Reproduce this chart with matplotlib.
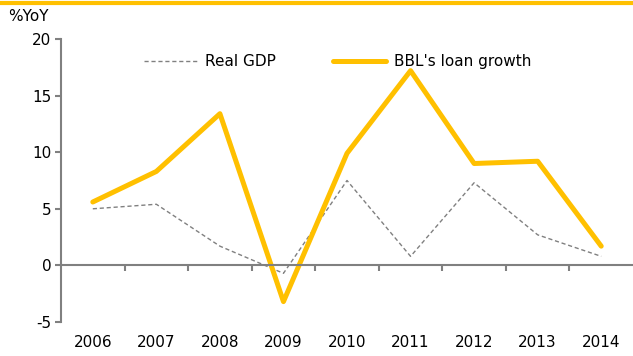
import matplotlib
matplotlib.use("Agg")
import matplotlib.pyplot as plt
from matplotlib.lines import Line2D

years = ["2006", "2007", "2008", "2009", "2010", "2011", "2012", "2013", "2014"]
real_gdp = [5.0, 5.4, 1.7, -0.7, 7.5, 0.8, 7.3, 2.7, 0.8]
bbl_loan_growth = [5.6, 8.3, 13.4, -3.2, 9.9, 17.2, 9.0, 9.2, 1.7]
y_ticks = [-5, 0, 5, 10, 15, 20]

YELLOW = "#FFC000"
GREY = "#808080"

plt.rcParams["font.family"] = ["DejaVu Sans"]
plt.rcParams["font.size"] = 11
plt.rcParams["axes.unicode_minus"] = False

fig = plt.figure(figsize=(6.33, 3.56), dpi=100)
ax = fig.add_axes([0.0964, 0.0955, 0.9036, 0.795])

x = list(range(len(years)))
ax.plot(x, real_gdp, color=GREY, lw=1.0, ls=(0, (3, 2)), label="Real GDP")
ax.plot(x, bbl_loan_growth, color=YELLOW, lw=3.6, solid_capstyle="round",
        label="BBL's loan growth")

ax.set_xlim(-0.5, 8.5)
ax.set_ylim(-5, 20)
ax.set_yticks(y_ticks)

# x axis sits at zero, with labels pushed to the bottom of the plot
ax.spines["bottom"].set_position(("data", 0))
for side in ("top", "right"):
    ax.spines[side].set_visible(False)
for side in ("left", "bottom"):
    ax.spines[side].set_color(GREY)
    ax.spines[side].set_linewidth(1.5)

ax.set_xticks(x)
ax.set_xticklabels(years)
ax.set_xticks([i + 0.5 for i in range(len(years) - 1)], minor=True)
ax.tick_params(axis="x", which="major", length=0, pad=50)
ax.tick_params(axis="x", which="minor", length=4, width=1.5, color=GREY,
               direction="out")
ax.tick_params(axis="y", length=4, width=1.5, color=GREY, pad=3)

fig.text(0.013, 0.955, "%YoY", ha="left", va="center")
fig.add_artist(Line2D([0, 1], [0.992, 0.992], color=YELLOW, lw=3,
                      transform=fig.transFigure))

handles, labels = ax.get_legend_handles_labels()
ax.legend(handles, labels, ncol=2, frameon=False, loc="center",
          bbox_to_anchor=(0.484, 0.919), handlelength=3.5,
          columnspacing=3.7, handletextpad=0.5, borderaxespad=0)

fig.savefig("out.png", dpi=100)
